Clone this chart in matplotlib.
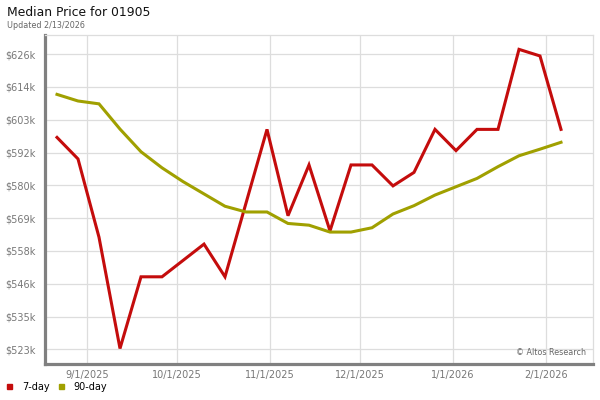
import matplotlib
matplotlib.use("Agg")
import matplotlib.pyplot as plt
import matplotlib.dates as mdates
import numpy as np
from datetime import datetime


"""Chart data"""
# weekly sample dates
dates = ["2025-08-22", "2025-08-29", "2025-09-05", "2025-09-12", "2025-09-19",
         "2025-09-26", "2025-10-03", "2025-10-10", "2025-10-17", "2025-10-24",
         "2025-10-31", "2025-11-07", "2025-11-14", "2025-11-21", "2025-11-28",
         "2025-12-05", "2025-12-12", "2025-12-19", "2025-12-26", "2026-01-02",
         "2026-01-09", "2026-01-16", "2026-01-23", "2026-01-30", "2026-02-06"]

# median price in $k
price_7day = [597.2, 589.7, 562.4, 523.6, 548.6, 548.6, 554.3, 560.0, 548.6, 574.3,
              600.0, 569.9, 587.6, 564.6, 587.6, 587.6, 580.3, 585.0, 600.0, 592.6,
              600.0, 600.0, 627.9, 625.6, 600.0]
price_90day = [612.2, 609.9, 608.9, 600.1, 592.2, 586.6, 581.8, 577.5, 573.2, 571.2,
               571.2, 567.2, 566.6, 564.2, 564.2, 565.7, 570.5, 573.4, 577.1, 580.0,
               582.9, 587.0, 590.8, 593.1, 595.5]

# y ticks ($k) and their labels
y_ticks = [523.3, 534.7, 546.2, 557.6, 569.0, 580.5, 591.9, 603.3, 614.8, 626.2]
y_labels = ["$523k", "$535k", "$546k", "$558k", "$569k", "$580k", "$592k",
            "$603k", "$614k", "$626k"]

x_ticks = ["2025-09-01", "2025-10-01", "2025-11-01", "2025-12-01", "2026-01-01", "2026-02-01"]
x_labels = ["9/1/2025", "10/1/2025", "11/1/2025", "12/1/2025", "1/1/2026", "2/1/2026"]

red = "#c40c0c"
olive = "#a0a000"


def to_dates(items):
    return [datetime.strptime(d, "%Y-%m-%d") for d in items]


fig = plt.figure(figsize=(6, 4), dpi=100)
ax = fig.add_axes([45 / 600, 1 - 364 / 400, 548 / 600, (364 - 35.3) / 400])

x = to_dates(dates)
ax.plot(x, price_7day, color=red, linewidth=2.2, solid_joinstyle="miter", zorder=3)
ax.plot(x, price_90day, color=olive, linewidth=2.2, solid_joinstyle="miter", zorder=3)

ax.set_xlim(datetime(2025, 8, 18), datetime(2026, 2, 16, 16))
ax.set_ylim(518.2, 632.8)

ax.set_yticks(y_ticks)
ax.set_yticklabels(y_labels)
ax.set_xticks(to_dates(x_ticks))
ax.set_xticklabels(x_labels)
ax.tick_params(length=0, labelsize=7, labelcolor="#777777")
ax.tick_params(axis="y", pad=7)
ax.tick_params(axis="x", pad=4)

ax.grid(True, color="#dddddd", linewidth=0.9)
ax.set_axisbelow(True)

# spines: thick gray left/bottom, light border top/right
for side in ["top", "right"]:
    ax.spines[side].set_color("#dddddd")
    ax.spines[side].set_linewidth(0.9)
for side in ["left", "bottom"]:
    ax.spines[side].set_color("#808080")
    ax.spines[side].set_linewidth(2.3)

# titles
fig.text(7 / 600, 1 - 12 / 400, "Median Price for 01905", fontsize=8.9,
         va="center", ha="left", color="#111111")
fig.text(7 / 600, 1 - 25 / 400, "Updated 2/13/2026", fontsize=5.8,
         va="center", ha="left", color="#666666")

# watermark
ax.text(0.987, 0.02, "\u00a9 Altos Research", transform=ax.transAxes, fontsize=5.8,
        ha="right", va="bottom", color="#666666")

# legend drawn by hand at the bottom
fig.patches.append(plt.Rectangle((7 / 600, 1 - 389 / 400), 5 / 600, 5 / 400,
                                 transform=fig.transFigure, color=red))
fig.text(22 / 600, 1 - 386.5 / 400, "7-day", fontsize=7, va="center", ha="left")
fig.patches.append(plt.Rectangle((59 / 600, 1 - 389 / 400), 5 / 600, 5 / 400,
                                 transform=fig.transFigure, color=olive))
fig.text(73 / 600, 1 - 386.5 / 400, "90-day", fontsize=7, va="center", ha="left")

fig.savefig("out.png", dpi=100)
